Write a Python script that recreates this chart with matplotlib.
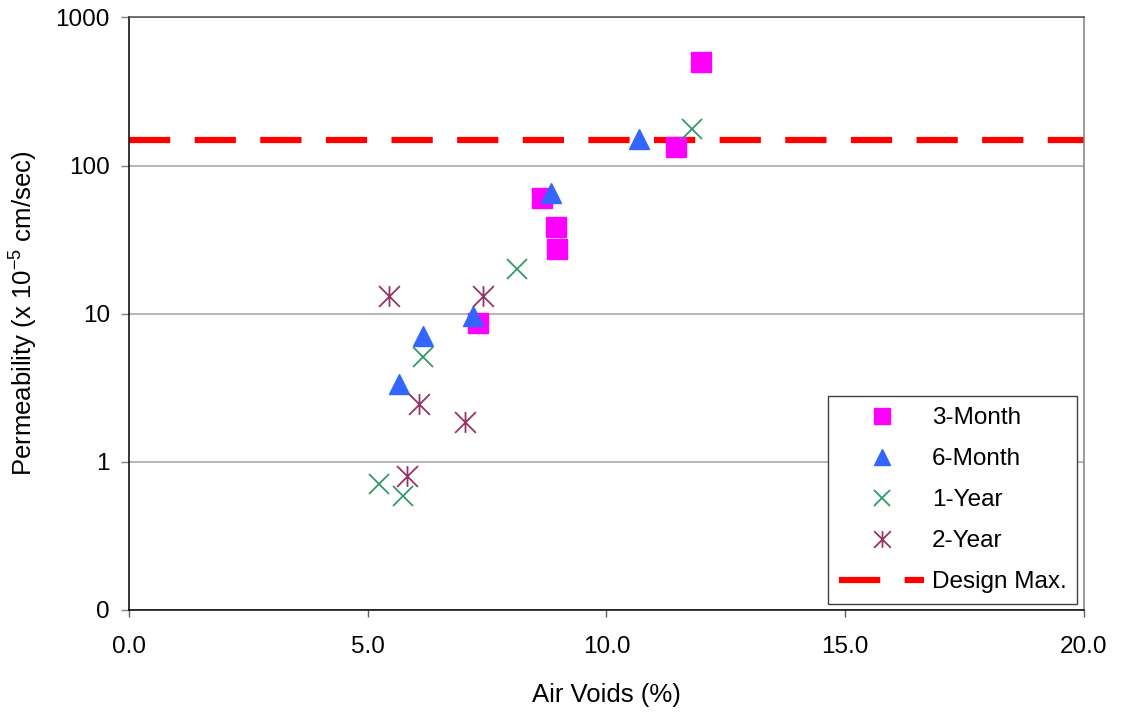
import matplotlib
matplotlib.use("Agg")
import matplotlib.pyplot as plt
from matplotlib.path import Path
from matplotlib.ticker import FixedLocator, FuncFormatter, NullLocator

plt.rcParams["font.family"] = ["Liberation Sans", "DejaVu Sans"]
plt.rcParams["mathtext.fontset"] = "custom"
plt.rcParams["mathtext.rm"] = "Liberation Sans"

# values
voids_3m = [7.30, 8.65, 8.94, 8.97, 11.45, 11.99]
perm_3m = [8.7, 60.0, 38.7, 27.5, 134.0, 497.0]

voids_6m = [5.65, 6.15, 7.20, 8.83, 10.68]
perm_6m = [3.35, 7.07, 9.6, 65.0, 152.0]

voids_1y = [5.23, 5.73, 6.15, 8.12, 11.80]
perm_1y = [0.707, 0.586, 5.07, 19.9, 176.0]

voids_2y = [5.44, 5.82, 6.07, 7.03, 7.41]
perm_2y = [13.2, 0.80, 2.45, 1.85, 13.2]

design_max = 150.0
x_ticks = [0, 5, 10, 15, 20]
y_ticks = [0.1, 1, 10, 100, 1000]

# excel style asterisk: vertical bar plus an X
star = Path(
    [(0, -1), (0, 1), (-1, -1), (1, 1), (-1, 1), (1, -1)],
    [Path.MOVETO, Path.LINETO] * 3,
)

fig = plt.figure(figsize=(11.21, 7.13), dpi=100)
ax = fig.add_axes([0.1153, 0.1445, 0.8514, 0.831])

ax.axhline(design_max, color="#FF0000", lw=4.5, dashes=(6.6, 3.9),
           label="Design Max.", zorder=1)

ax.plot(voids_3m, perm_3m, ls="none", marker="s", ms=14.4, color="#FF00FF",
        mec="#FF00FF", label="3-Month", zorder=3)
ax.plot(voids_6m, perm_6m, ls="none", marker="^", ms=15, color="#3366FF",
        mec="#3366FF", label="6-Month", zorder=4)
ax.plot(voids_1y, perm_1y, ls="none", marker="x", ms=15, mew=1.3,
        color="#339966", label="1-Year", zorder=5)
ax.plot(voids_2y, perm_2y, ls="none", marker=star, ms=15, mew=1.3,
        color="#993366", label="2-Year", zorder=6)

ax.set_yscale("log")
ax.set_xlim(0, 20)
ax.set_ylim(0.1, 1000)
ax.xaxis.set_major_locator(FixedLocator(x_ticks))
ax.xaxis.set_major_formatter(FuncFormatter(lambda v, p: f"{v:.1f}"))
ax.yaxis.set_major_locator(FixedLocator(y_ticks))
ax.yaxis.set_major_formatter(FuncFormatter(lambda v, p: f"{v:.0f}"))
ax.yaxis.set_minor_locator(NullLocator())

ax.grid(axis="y", color="#A0A0A0", lw=1.1, zorder=0)
ax.set_axisbelow(True)

ax.spines["left"].set_color("black")
ax.spines["bottom"].set_color("black")
ax.spines["top"].set_color("#505050")
ax.spines["right"].set_color("#808080")
for s in ax.spines.values():
    s.set_linewidth(1.1)

ax.tick_params(axis="x", direction="out", length=5, width=1, color="#606060",
               labelsize=17.5, pad=14)
ax.tick_params(axis="y", direction="out", length=6, width=1, color="#808080",
               labelsize=17.5, pad=8)

ax.set_xlabel("Air Voids (%)", fontsize=18.5, labelpad=18)
ax.set_ylabel(r"Permeability (x 10$^{\mathregular{-5}}$ cm/sec)",
              fontsize=18.5, labelpad=12)

# legend: the four series first, design line last
handles, labels = ax.get_legend_handles_labels()
order = [1, 2, 3, 4, 0]
leg = ax.legend(
    [handles[i] for i in order],
    [labels[i] for i in order],
    loc="lower right",
    bbox_to_anchor=(0.9934, 0.0101),
    borderaxespad=0,
    fontsize=17.5,
    handlelength=3.5,
    markerscale=0.8,
    labelspacing=0.78,
    handletextpad=0.3,
    borderpad=0.45,
    fancybox=False,
    framealpha=1,
    edgecolor="#404040",
)
leg.get_frame().set_linewidth(1.0)

fig.savefig("out.png", dpi=100)
